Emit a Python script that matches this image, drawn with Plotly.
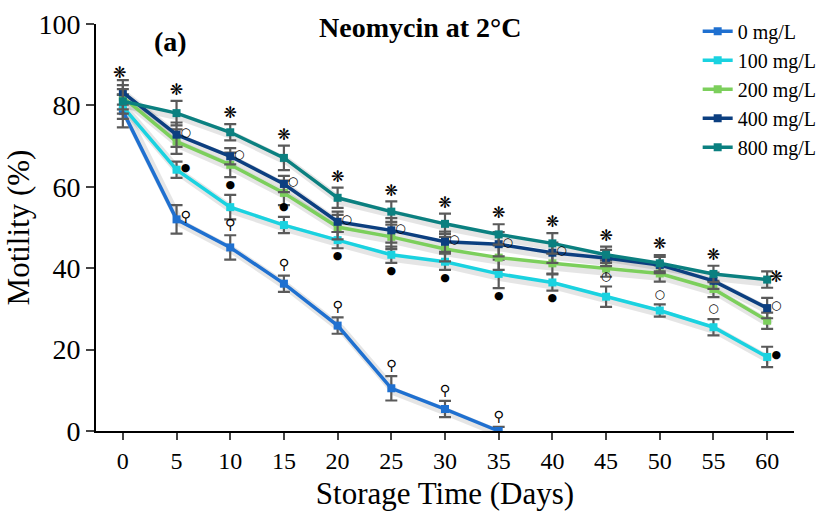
import plotly.graph_objects as go

days = [0, 5, 10, 15, 20, 25, 30, 35, 40, 45, 50, 55, 60]
names = ["0 mg/L", "100 mg/L", "200 mg/L", "400 mg/L", "800 mg/L"]
colors = ["#1f70d0", "#1ad2e0", "#7ccf5c", "#0c3f80", "#0b8080"]

m0 = [78.6, 52.0, 45.1, 36.2, 25.9, 10.5, 5.4, 0.0]
m100 = [79.7, 64.2, 55.0, 50.6, 46.9, 43.3, 41.6, 38.6, 36.5, 33.0, 29.6, 25.5, 18.2]
m200 = [82.0, 71.1, 65.4, 58.5, 50.1, 47.7, 44.7, 42.6, 41.2, 39.9, 38.7, 34.9, 27.1]
m400 = [83.2, 72.8, 67.5, 60.7, 51.4, 49.3, 46.5, 45.9, 43.8, 42.5, 40.8, 36.9, 30.2]
m800 = [81.0, 78.1, 73.4, 67.1, 57.3, 53.9, 50.9, 48.3, 46.1, 43.3, 41.2, 38.6, 37.2]

e0 = [4.0, 3.5, 3.0, 2.0, 2.0, 3.0, 2.0, 1.0]
e100 = [3.0, 2.0, 3.0, 2.0, 2.0, 2.0, 2.0, 3.5, 2.0, 2.5, 1.5, 2.0, 2.5]
e200 = [3.0, 3.0, 3.0, 3.0, 3.0, 3.0, 3.0, 3.0, 2.5, 2.0, 2.0, 2.0, 2.0]
e400 = [3.0, 3.0, 2.0, 2.0, 2.5, 3.0, 2.5, 3.0, 2.5, 2.0, 2.0, 2.0, 2.5]
e800 = [3.0, 3.0, 2.0, 3.0, 2.5, 2.5, 2.5, 2.5, 2.5, 2.0, 2.0, 2.0, 2.0]

means = [m0, m100, m200, m400, m800]
errs = [e0, e100, e200, e400, e800]

# significance symbols: (series index, placement) per day
star_marks = [(4, "above")] * 12 + [(4, "right")]
open_marks = [None] + [(3, "right")] * 8 + [(1, "above")] * 3 + [(3, "right")]
fill_marks = [None, (1, "right"), (1, "above"), (1, "above"), (1, "below"), (1, "below"),
              (1, "below"), (1, "below"), (1, "below"), None, None, None, (1, "right")]
zero_marks = [None, (0, "right")] + [(0, "above")] * 6

FONT = "Times New Roman, Liberation Serif, serif"
fig = go.Figure()

# soft drop shadows under the lines
for i in range(5):
    n = len(means[i])
    fig.add_trace(go.Scatter(
        x=[d + 0.35 for d in days[:n]], y=[v - 0.9 for v in means[i]], mode="lines",
        line=dict(color="rgba(0,0,0,0.10)", width=8), showlegend=False, hoverinfo="skip"))

for i in range(5):
    n = len(means[i])
    fig.add_trace(go.Scatter(
        x=days[:n], y=means[i], name=names[i], mode="lines+markers",
        line=dict(color=colors[i], width=3.5),
        marker=dict(symbol="square", size=8, color=colors[i]),
        error_y=dict(type="data", array=errs[i], color="#5a5a5a", thickness=2.2, width=6),
    ))


def place(marks, symbol, size):
    xs, ys = [], []
    for d, mk in zip(days, marks):
        if mk is None:
            continue
        s, pos = mk
        k = days.index(d)
        if k == 0 and pos == "above":
            v = max(m[0] + e[0] for m, e in zip(means, errs))
            xs.append(d - 0.3); ys.append(v + 1.6)
            continue
        v = means[s][k]; e = errs[s][k]
        if pos == "above":
            xs.append(d); ys.append(v + e + 2.4)
        elif pos == "below":
            xs.append(d); ys.append(v - e - 2.0)
        else:
            xs.append(d + 0.85); ys.append(v + 0.4)
    fig.add_trace(go.Scatter(x=xs, y=ys, mode="text", text=[symbol] * len(xs),
                             textposition="middle center", showlegend=False,
                             hoverinfo="skip",
                             textfont=dict(family="DejaVu Sans", size=size, color="black")))


place(star_marks, "❋", 16)
place(open_marks, "○", 12)
place(fill_marks, "●", 11)
place(zero_marks, "⚲", 14)

fig.add_annotation(x=0.465, y=1.035, xref="paper", yref="paper", yanchor="top",
                   text="<b>Neomycin at 2°C</b>", showarrow=False,
                   font=dict(family=FONT, size=28, color="black"))
fig.add_annotation(x=0.08, y=1.0, xref="paper", yref="paper", yanchor="top",
                   text="<b>(a)</b>", showarrow=False,
                   font=dict(family=FONT, size=28, color="black"))

fig.update_layout(
    width=834, height=517, margin=dict(l=96, r=34, t=22, b=86),
    paper_bgcolor="white", plot_bgcolor="white",
    font=dict(family=FONT, color="black"),
    legend=dict(x=0.862, y=1.03, xanchor="left", yanchor="top", bgcolor="rgba(0,0,0,0)",
                font=dict(family=FONT, size=20, color="black"), itemwidth=30),
    xaxis=dict(range=[-2.5, 62.5], tickvals=days, ticks="outside", ticklen=7, tickwidth=2,
               showline=True, linecolor="black", linewidth=2, showgrid=False, zeroline=False,
               automargin=False, tickfont=dict(family=FONT, size=24),
               title=dict(text="Storage Time (Days)", font=dict(family=FONT, size=31), standoff=10)),
    yaxis=dict(range=[0, 100], tickvals=[0, 20, 40, 60, 80, 100], ticks="outside", ticklen=8,
               tickwidth=2, showline=True, linecolor="black", linewidth=2, showgrid=False,
               zeroline=False, automargin=False, tickfont=dict(family=FONT, size=28),
               title=dict(text="Motility (%)", font=dict(family=FONT, size=31), standoff=0)),
)

fig.write_html("out.html")
